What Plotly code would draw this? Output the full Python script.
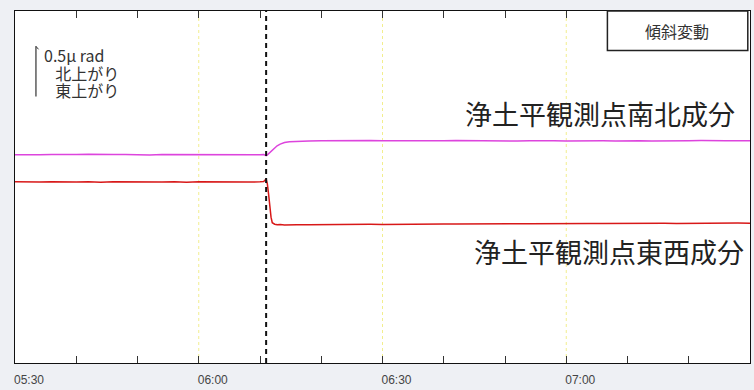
import pandas as pd
import plotly.graph_objects as go

# ---- data (minutes after 05:30, tilt in µrad on an arbitrary offset scale) ----
minutes = ([0, 2, 4, 6, 8, 10, 12, 14, 16, 18, 20, 22, 24, 26, 28, 30, 32, 34, 36, 38, 40]
           + [40.6, 41.0, 41.2, 41.4, 41.6, 41.8, 42.0, 42.4, 42.8, 43.3, 44.0, 44.8, 46]
           + [48, 50, 52, 54, 56, 58, 60, 62, 64, 66, 68, 70, 72, 74, 76, 78, 80, 82, 84,
              86, 88, 90, 92, 94, 96, 98, 100, 102, 104, 106, 108, 110, 112, 114, 116, 118, 120])

ns_values = ([2.070, 2.074, 2.071, 2.073, 2.069, 2.072, 2.075, 2.070, 2.072, 2.074, 2.071,
              2.069, 2.073, 2.072, 2.070, 2.074, 2.071, 2.073, 2.070, 2.072, 2.071]
             + [2.072, 2.062, 2.070, 2.082, 2.095, 2.108, 2.120, 2.142, 2.160, 2.177, 2.193, 2.201, 2.206]
             + [2.207, 2.209, 2.211, 2.208, 2.210, 2.212, 2.209, 2.207, 2.210, 2.211, 2.208, 2.209,
                2.212, 2.210, 2.208, 2.209, 2.211, 2.207, 2.210, 2.212, 2.209, 2.208, 2.210, 2.211,
                2.209, 2.207, 2.212, 2.210, 2.208, 2.211, 2.209, 2.210, 2.212, 2.208, 2.211, 2.209, 2.210])

ew_values = ([1.801, 1.797, 1.800, 1.803, 1.798, 1.800, 1.802, 1.797, 1.801, 1.799, 1.803,
              1.798, 1.800, 1.802, 1.797, 1.801, 1.799, 1.802, 1.798, 1.800, 1.801]
             + [1.804, 1.830, 1.780, 1.680, 1.560, 1.450, 1.395, 1.380, 1.374, 1.377, 1.373, 1.376, 1.374]
             + [1.375, 1.377, 1.376, 1.378, 1.377, 1.379, 1.378, 1.380, 1.379, 1.381, 1.380, 1.382,
                1.381, 1.383, 1.382, 1.384, 1.383, 1.385, 1.384, 1.386, 1.384, 1.386, 1.385, 1.387,
                1.386, 1.388, 1.386, 1.388, 1.387, 1.389, 1.388, 1.390, 1.388, 1.390, 1.389, 1.391, 1.390])

tick_minutes = [0, 10, 20, 30, 40, 50, 60, 70, 80, 90, 100, 110, 120]
tick_labels = ["05:30", "", "", "06:00", "", "", "06:30", "", "", "07:00", "", "", ""]
guide_minutes = [30, 60, 90]     # yellow dotted guides
event_minute = 41.0              # black dashed line
scale_bar = [2.649, 3.149]       # 0.5 µrad
y_range = [0, 3.5]

base = pd.Timestamp("2024-01-01 05:30:00")
def to_time(m):
    return base + pd.to_timedelta(m, unit="m")

x = [to_time(m) for m in minutes]

fig = go.Figure()
fig.add_trace(go.Scatter(x=x, y=ns_values, mode="lines",
                         line=dict(color="#dd44dd", width=1.5), name="南北"))
fig.add_trace(go.Scatter(x=x, y=ew_values, mode="lines",
                         line=dict(color="#d81818", width=1.5), name="東西"))

shapes = []
for g in guide_minutes:
    shapes.append(dict(type="line", xref="x", yref="paper", x0=to_time(g), x1=to_time(g),
                       y0=0, y1=1, line=dict(color="#f2ee8e", width=1, dash="dot"), layer="below"))
shapes.append(dict(type="line", xref="x", yref="paper", x0=to_time(event_minute),
                   x1=to_time(event_minute), y0=0, y1=1,
                   line=dict(color="#111111", width=2, dash="5px,4px")))
# scale bar
shapes.append(dict(type="line", xref="paper", yref="y", x0=0.0285, x1=0.0285,
                   y0=scale_bar[0], y1=scale_bar[1], line=dict(color="#333333", width=1.2)))
shapes.append(dict(type="line", xref="paper", yref="y", x0=0.0285, x1=0.032,
                   y0=scale_bar[1], y1=scale_bar[1] - 0.03, line=dict(color="#333333", width=1)))
# title box
shapes.append(dict(type="rect", xref="paper", yref="paper", x0=0.806, x1=0.997, y0=0.888, y1=1.0,
                   line=dict(color="#222222", width=1.5), fillcolor="white"))

cjk = "Noto Sans CJK JP"
legend_text = ("<span style='font-size:16px'>0.5μ rad</span><br>"
               "<span style='font-size:16px'>\u2002\u2009北上がり</span><br>"
               "<span style='font-size:16px'>\u2002\u2009東上がり</span>")
annotations = [
    dict(text="傾斜変動", xref="paper", yref="paper", x=0.901, y=0.943, showarrow=False,
         font=dict(family=cjk, size=16, color="#333333"), xanchor="center", yanchor="middle"),
    dict(text=legend_text, xref="paper", yref="paper", x=0.037, y=0.824, showarrow=False,
         align="left", font=dict(family=cjk, size=13.5, color="#333333"),
         xanchor="left", yanchor="middle"),
    dict(text="浄土平観測点南北成分", xref="paper", yref="paper", x=0.982, y=0.709, showarrow=False,
         font=dict(family=cjk, size=27, color="#222222"), xanchor="right", yanchor="middle"),
    dict(text="浄土平観測点東西成分", xref="paper", yref="paper", x=0.995, y=0.316, showarrow=False,
         font=dict(family=cjk, size=27, color="#222222"), xanchor="right", yanchor="middle"),
]

fig.update_layout(
    width=754, height=390,
    margin=dict(l=15, r=3, t=11, b=21),
    paper_bgcolor="#eef0f4", plot_bgcolor="white",
    showlegend=False,
    shapes=shapes, annotations=annotations,
    xaxis=dict(range=[to_time(0), to_time(120)], tickvals=[to_time(m) for m in tick_minutes],
               ticktext=tick_labels, ticks="inside", ticklen=7, tickcolor="#333333",
               showgrid=False, zeroline=False, showline=True, linecolor="#111111", linewidth=1.2,
               mirror="ticks", ticklabelshift=14, ticklabelstandoff=5,
               tickfont=dict(family="Liberation Sans", size=12, color="#444444")),
    yaxis=dict(range=y_range, showticklabels=False, ticks="", showgrid=False, zeroline=False,
               showline=True, linecolor="#111111", linewidth=1.2, mirror=True),
)

fig.write_html("out.html", config={"displayModeBar": False},
               post_script="document.body.style.margin='0';document.body.style.background='#eef0f4';")
